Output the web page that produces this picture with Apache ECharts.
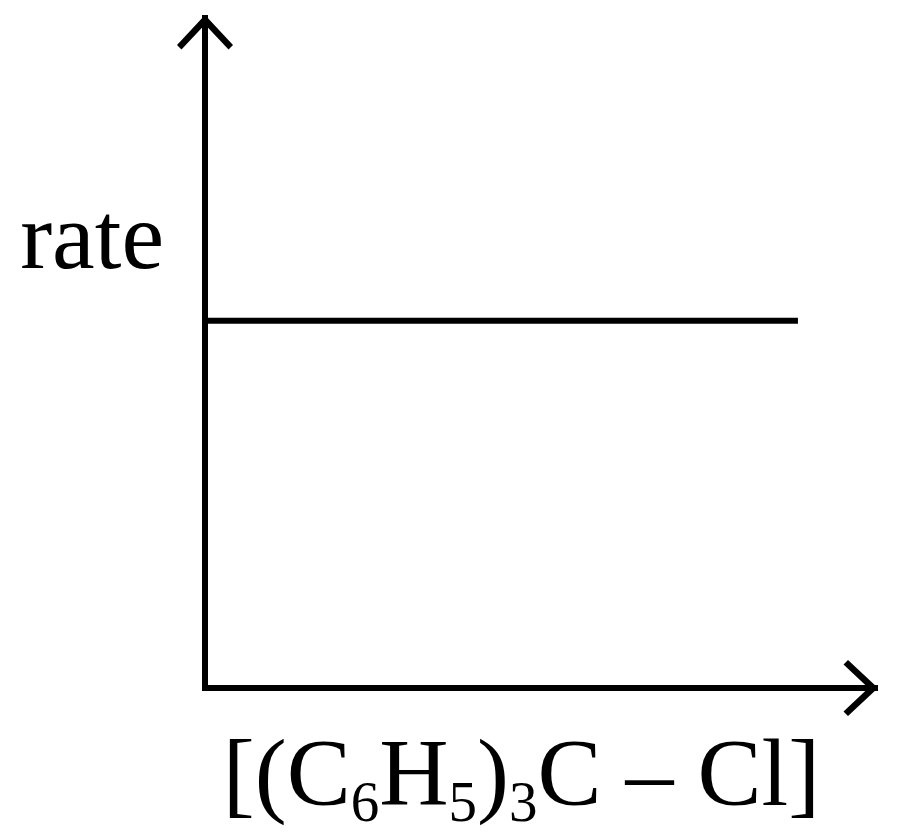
<!DOCTYPE html>
<html>
<head>
<meta charset="utf-8">
<script src="https://cdn.jsdelivr.net/npm/echarts@6/dist/echarts.min.js"></script>
<style>
  html, body { margin: 0; padding: 0; background: #fff; }
  #rate_chart { width: 900px; height: 839px; }
</style>
</head>
<body>
<div id="rate_chart"></div>
<script>
// rate vs [(C6H5)3C-Cl] : zero order, rate does not change
var concentration = [0, 8.85];
var rate = [5.48, 5.48];
var xName = '{m|[(C}{s|6}{m|H}{s|5}{m|)}{s|3}{m|C \u2013 Cl]}';
var yName = 'rate';

var serifFont = '"Liberation Serif", "Times New Roman", serif';
// open chevron arrow head
var arrowPath = 'path://M30,0 L58,30 L53.5,34.5 L30,9.5 L6.5,34.5 L2,30 Z';

var pairs = concentration.map(function (c, i) { return [c, rate[i]]; });

var axisLineStyle = {
    show: true,
    symbol: ['none', arrowPath],
    symbolSize: [56, 34.5],
    symbolOffset: [0, -14.25],
    lineStyle: { color: '#000', width: 6, cap: 'square' }
};

var rate_chart_opt = {
    animation: false,
    backgroundColor: '#fff',
    grid: {
        left: 205,
        right: 25,
        top: 18,
        bottom: 151,
        outerBoundsMode: 'none',
        containLabel: false
    },
    xAxis: {
        type: 'value',
        min: 0,
        max: 10,
        name: xName,
        nameLocation: 'middle',
        nameGap: 37,
        nameTextStyle: {
            color: '#000',
            fontFamily: serifFont,
            padding: [0, 37, 0, 0],
            rich: {
                m: { fontSize: 96, lineHeight: 110, fontFamily: serifFont, color: '#000' },
                s: { fontSize: 57, lineHeight: 72, verticalAlign: 'bottom', fontFamily: serifFont, color: '#000' }
            }
        },
        axisLine: axisLineStyle,
        axisTick: { show: false },
        axisLabel: { show: false },
        splitLine: { show: false }
    },
    yAxis: {
        type: 'value',
        min: 0,
        max: 10,
        name: yName,
        nameLocation: 'middle',
        nameRotate: 0,
        nameGap: 41,
        nameTextStyle: {
            color: '#000',
            fontFamily: serifFont,
            fontSize: 96,
            lineHeight: 220,
            verticalAlign: 'bottom'
        },
        axisLine: axisLineStyle,
        axisTick: { show: false },
        axisLabel: { show: false },
        splitLine: { show: false }
    },
    series: [
        {
            name: 'rate',
            type: 'line',
            data: pairs,
            showSymbol: false,
            symbol: 'none',
            lineStyle: { color: '#000', width: 6 },
            z: 1
        }
    ]
};

var chartOutChar_rate = echarts.init(document.getElementById('rate_chart'));
chartOutChar_rate.setOption(rate_chart_opt);
</script>
</body>
</html>
